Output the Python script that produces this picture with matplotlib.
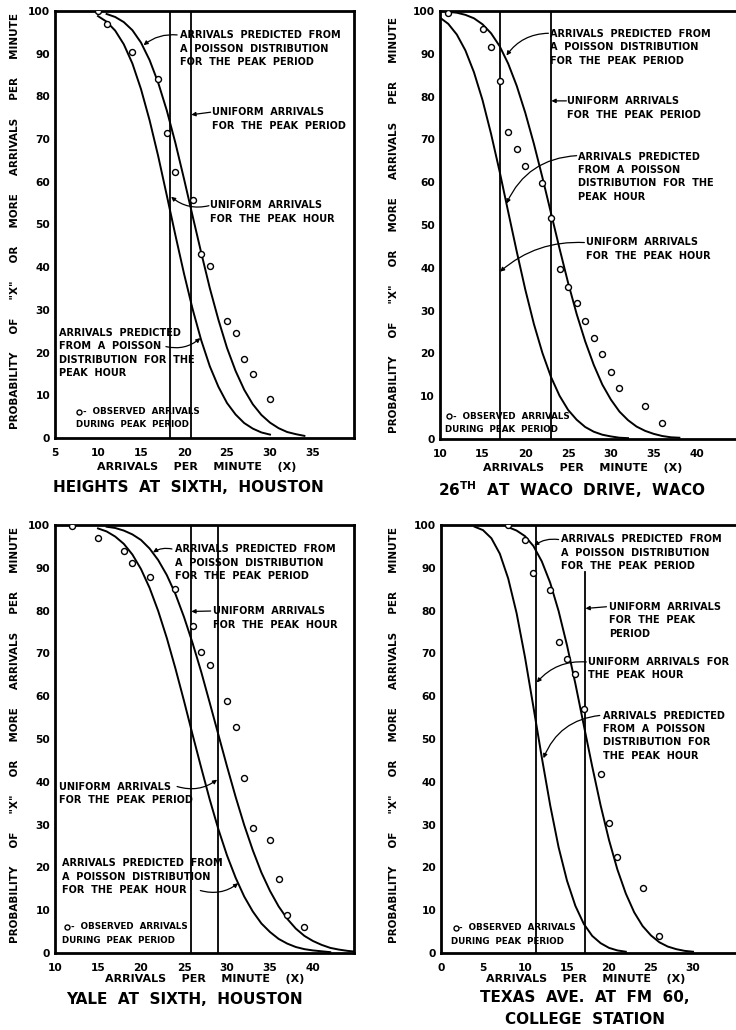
import matplotlib
matplotlib.use("Agg")
import matplotlib.pyplot as plt

plt.rcParams['font.family'] = ['DejaVu Sans']
plt.rcParams['font.weight'] = 'bold'

# ---------------- data ----------------
y_ticks = [0, 10, 20, 30, 40, 50, 60, 70, 80, 90, 100]

# Panel 1: Heights at Sixth, Houston
p1_hour_x = list(range(10, 31))
p1_hour_y = [98.8, 97.5, 95.4, 92.2, 87.7, 81.7, 74.4, 66.0, 56.8, 47.5, 38.5,
             30.2, 22.9, 16.8, 12.0, 8.2, 5.5, 3.5, 2.2, 1.3, 0.8]
p1_period_x = list(range(11, 35))
p1_period_y = [99.3, 98.6, 97.4, 95.5, 92.6, 88.5, 83.2, 76.7, 69.1, 60.7, 52.0,
               43.4, 35.1, 27.7, 21.1, 15.7, 11.3, 7.9, 5.4, 3.6, 2.3, 1.4, 0.9, 0.5]
p1_obs_x = [10, 11, 14, 17, 18, 19, 21, 22, 23, 25, 26, 27, 28, 30]
p1_obs_y = [100, 97, 90.3, 84, 71.5, 62.3, 55.8, 43.1, 40.2, 27.5, 24.6, 18.4, 15.1, 9.1]
p1_uniform = [18.4, 20.8]
p1_xticks = [5, 10, 15, 20, 25, 30, 35]

# Panel 2: 26th at Waco Drive, Waco
p2_hour_x = list(range(10, 33))
p2_hour_y = [98.5, 97.0, 94.5, 90.8, 85.7, 79.2, 71.3, 62.5, 53.1, 43.8, 34.9, 26.9,
             20.1, 14.5, 10.1, 6.8, 4.5, 2.8, 1.7, 1.0, 0.6, 0.3, 0.2]
p2_period_x = list(range(11, 39))
p2_period_y = [99.8, 99.6, 99.1, 98.3, 96.9, 94.8, 91.8, 87.7, 82.5, 76.2, 69.0, 61.1,
               52.8, 44.5, 36.5, 29.2, 22.8, 17.3, 12.7, 9.2, 6.4, 4.4, 2.9, 1.9,
               1.2, 0.7, 0.4, 0.3]
p2_obs_x = [11, 15, 16, 17, 18, 19, 20, 22, 23, 24, 25, 26, 27, 28, 29, 30, 31, 34, 36]
p2_obs_y = [99.6, 95.7, 91.7, 83.6, 71.7, 67.8, 63.9, 59.8, 51.6, 39.8, 35.4, 31.7,
            27.6, 23.7, 19.8, 15.6, 11.9, 7.6, 3.7]
p2_uniform = [17.0, 23.0]
p2_xticks = [10, 15, 20, 25, 30, 35, 40]

# Panel 3: Yale at Sixth, Houston
p3_hour_x = list(range(15, 43))
p3_hour_y = [99.2, 98.5, 97.3, 95.6, 93.1, 89.7, 85.3, 79.9, 73.6, 66.5, 58.9, 51.0,
             43.3, 35.8, 28.9, 22.8, 17.6, 13.2, 9.7, 6.9, 4.9, 3.3, 2.2, 1.4, 0.9,
             0.6, 0.4, 0.2]
p3_period_x = list(range(16, 46))
p3_period_y = [99.6, 99.3, 98.7, 97.8, 96.5, 94.5, 91.8, 88.3, 83.9, 78.5, 72.4, 65.7,
               58.4, 51.0, 43.6, 36.5, 29.9, 24.0, 18.8, 14.5, 10.9, 8.0, 5.7, 4.0,
               2.8, 1.9, 1.2, 0.8, 0.5, 0.3]
p3_obs_x = [12, 15, 18, 19, 21, 24, 26, 27, 28, 30, 31, 32, 33, 35, 36, 37, 39]
p3_obs_y = [99.8, 96.9, 93.9, 91.1, 87.8, 85.0, 76.3, 70.3, 67.3, 58.8, 52.7, 40.8,
            29.3, 26.3, 17.4, 8.9, 6.0]
p3_uniform = [25.8, 28.9]
p3_xticks = [10, 15, 20, 25, 30, 35, 40]

# Panel 4: Texas Ave. at FM 60, College Station
p4_hour_x = list(range(4, 23))
p4_hour_y = [99.6, 98.8, 96.9, 93.3, 87.5, 79.4, 69.1, 57.5, 45.7, 34.5, 24.7, 16.9,
             11.0, 6.8, 4.0, 2.3, 1.2, 0.6, 0.3]
p4_period_x = list(range(8, 31))
p4_period_y = [99.5, 98.7, 97.4, 95.1, 91.5, 86.5, 79.9, 71.9, 62.9, 53.2, 43.6, 34.5,
               26.4, 19.5, 13.9, 9.5, 6.3, 4.1, 2.5, 1.5, 0.9, 0.5, 0.3]
p4_obs_x = [8, 10, 11, 13, 14, 15, 16, 17, 19, 20, 21, 24, 26]
p4_obs_y = [99.9, 96.6, 88.8, 84.9, 72.7, 68.7, 65.1, 57.1, 41.8, 30.4, 22.5, 15.2, 3.9]
p4_uniform = [11.3, 17.1]
p4_xticks = [0, 5, 10, 15, 20, 25, 30]

titles = ["HEIGHTS  AT  SIXTH,  HOUSTON",
          r"26$^{\mathbf{TH}}$  AT  WACO  DRIVE,  WACO",
          "YALE  AT  SIXTH,  HOUSTON",
          "TEXAS  AVE.  AT  FM  60,",
          "COLLEGE  STATION"]
xlabel = "ARRIVALS    PER    MINUTE    (X)"
ylabel = 'PROBABILITY     OF     "X"     OR     MORE     ARRIVALS     PER     MINUTE'

# ---------------- figure ----------------
W, H = 736, 1030
fig = plt.figure(figsize=(W / 100, H / 100), dpi=100)


def px_axes(left, top, right, bottom):
    return fig.add_axes([left / W, 1 - bottom / H, (right - left) / W, (bottom - top) / H])


ax1 = px_axes(55, 11, 354, 438)
ax2 = px_axes(439.7, 11, 742, 439)
ax3 = px_axes(55, 525, 354, 953)
ax4 = px_axes(441, 525, 742, 953)

xlims = [(5, 5 + 299 / 8.6), (10, 10 + (742 - 439.7) / 8.56),
         (10, 10 + 299 / 8.6), (0, (742 - 441) / 8.4)]

panels = [
    (ax1, p1_hour_x, p1_hour_y, p1_period_x, p1_period_y, p1_obs_x, p1_obs_y, p1_uniform, p1_xticks),
    (ax2, p2_hour_x, p2_hour_y, p2_period_x, p2_period_y, p2_obs_x, p2_obs_y, p2_uniform, p2_xticks),
    (ax3, p3_hour_x, p3_hour_y, p3_period_x, p3_period_y, p3_obs_x, p3_obs_y, p3_uniform, p3_xticks),
    (ax4, p4_hour_x, p4_hour_y, p4_period_x, p4_period_y, p4_obs_x, p4_obs_y, p4_uniform, p4_xticks),
]

for i, (ax, hx, hy, px_, py_, ox, oy, uni, xt) in enumerate(panels):
    ax.plot(hx, hy, color='black', lw=1.4, zorder=3)
    ax.plot(px_, py_, color='black', lw=1.4, zorder=3)
    for j, u in enumerate(uni):
        ymax = 0.89 if (i == 3 and j == 1) else 1.0
        ax.axvline(u, ymin=0, ymax=ymax, color='black', lw=1.3, zorder=2)
    ax.plot(ox, oy, linestyle='none', marker='o', markersize=4.3, markerfacecolor='white',
            markeredgecolor='black', markeredgewidth=1.0, zorder=5)
    ax.set_xlim(*xlims[i])
    ax.set_ylim(0, 100)
    ax.set_xticks(xt)
    ax.set_yticks(y_ticks)
    ax.tick_params(length=0, labelsize=7.7, pad=3.5)
    ax.tick_params(axis='x', pad=7)
    for lab in ax.get_xticklabels() + ax.get_yticklabels():
        lab.set_fontweight('bold')
    for s in ax.spines.values():
        s.set_linewidth(2.0)
    if i in (1, 3):
        ax.spines['right'].set_visible(False)

TS = 7.0
LS = 1.42
arrow_kw = dict(arrowstyle='-|>', color='black', lw=0.9, mutation_scale=6,
                shrinkA=0, shrinkB=0)


def label(ax, text, x, y, start, target, rad):
    ax.text(x, y, text, fontsize=TS, fontweight='bold', ha='left', va='center',
            linespacing=LS, zorder=6)
    ax.annotate('', xy=target, xytext=start,
                arrowprops=dict(connectionstyle='arc3,rad=%s' % rad, **arrow_kw), zorder=6)


def legend(ax, mx, my, tx, ty2):
    ax.plot([mx], [my], linestyle='none', marker='o', markersize=3.6, markerfacecolor='white',
            markeredgecolor='black', markeredgewidth=1.0, zorder=6)
    ax.text(mx + 0.45, my, "-  OBSERVED  ARRIVALS", fontsize=6.3, fontweight='bold',
            ha='left', va='center', zorder=6)
    ax.text(tx, ty2, "DURING  PEAK  PERIOD", fontsize=6.3, fontweight='bold',
            ha='left', va='center', zorder=6)


# Panel 1 labels
label(ax1, "ARRIVALS  PREDICTED  FROM\nA  POISSON  DISTRIBUTION\nFOR  THE  PEAK  PERIOD",
      19.5, 91.2, (19.2, 94.4), (15.3, 92.0), 0.2)
label(ax1, "UNIFORM  ARRIVALS\nFOR  THE  PEAK  PERIOD", 23.3, 74.7, (23.1, 76.3), (20.85, 75.7), 0)
label(ax1, "UNIFORM  ARRIVALS\nFOR  THE  PEAK  HOUR", 23.0, 52.9, (22.9, 54.4), (18.5, 56.5), -0.25)
label(ax1, "ARRIVALS  PREDICTED\nFROM  A  POISSON\nDISTRIBUTION  FOR  THE\nPEAK  HOUR",
      5.5, 19.9, (17.9, 21.4), (21.9, 23.4), 0.25)
legend(ax1, 7.8, 6.2, 7.5, 3.1)

# Panel 2 labels
label(ax2, "ARRIVALS  PREDICTED  FROM\nA  POISSON  DISTRIBUTION\nFOR  THE  PEAK  PERIOD",
      22.9, 91.5, (22.7, 94.8), (17.8, 89.6), 0.25)
label(ax2, "UNIFORM  ARRIVALS\nFOR  THE  PEAK  PERIOD", 24.9, 77.3, (24.8, 79.0), (23.05, 79.0), 0)
label(ax2, "ARRIVALS  PREDICTED\nFROM  A  POISSON\nDISTRIBUTION  FOR  THE\nPEAK  HOUR",
      26.2, 61.3, (26.0, 66.2), (17.8, 55.0), 0.3)
label(ax2, "UNIFORM  ARRIVALS\nFOR  THE  PEAK  HOUR", 27.1, 44.4, (26.9, 45.9), (17.05, 39.1), 0.2)
legend(ax2, 11.1, 5.3, 10.6, 2.2)

# Panel 3 labels
label(ax3, "ARRIVALS  PREDICTED  FROM\nA  POISSON  DISTRIBUTION\nFOR  THE  PEAK  PERIOD",
      23.9, 91.2, (23.6, 94.4), (21.4, 93.6), 0.2)
label(ax3, "UNIFORM  ARRIVALS\nFOR  THE  PEAK  HOUR", 28.4, 78.3, (28.1, 79.9), (25.85, 79.8), 0)
label(ax3, "UNIFORM  ARRIVALS\nFOR  THE  PEAK  PERIOD", 10.5, 37.3, (24.2, 38.9), (28.85, 40.5), 0.25)
label(ax3, "ARRIVALS  PREDICTED  FROM\nA  POISSON  DISTRIBUTION\nFOR  THE  PEAK  HOUR",
      10.8, 17.8, (26.9, 14.6), (31.3, 16.3), 0.25)
legend(ax3, 11.4, 6.1, 10.8, 3.0)

# Panel 4 labels
label(ax4, "ARRIVALS  PREDICTED  FROM\nA  POISSON  DISTRIBUTION\nFOR  THE  PEAK  PERIOD",
      14.3, 93.5, (14.0, 96.6), (11.1, 95.2), 0.2)
label(ax4, "UNIFORM  ARRIVALS\nFOR  THE  PEAK\nPERIOD", 20.0, 77.7, (19.7, 80.9), (17.2, 80.5), 0)
label(ax4, "UNIFORM  ARRIVALS  FOR\nTHE  PEAK  HOUR", 17.5, 66.5, (17.3, 68.0), (11.4, 63.2), 0.25)
label(ax4, "ARRIVALS  PREDICTED\nFROM  A  POISSON\nDISTRIBUTION  FOR\nTHE  PEAK  HOUR",
      19.3, 50.8, (18.9, 55.5), (12.2, 45.5), 0.3)
legend(ax4, 1.74, 5.9, 1.2, 2.7)


# outer labels (positions in pixels)
def ftext(x, y, s, **kw):
    fig.text(x / W, 1 - y / H, s, fontweight='bold', **kw)


for (yx, yy) in [(15, 221), (394, 225), (15, 735), (394, 735)]:
    ftext(yx, yy, ylabel, fontsize=7.5, rotation=90, ha='center', va='center')
for (xx, xy) in [(197, 467), (583, 468), (205, 979), (586, 979)]:
    ftext(xx, xy, xlabel, fontsize=8.0, ha='center', va='center')

ftext(188, 488, titles[0], fontsize=11, ha='center', va='center')
ftext(572, 490, titles[1], fontsize=11, ha='center', va='center')
ftext(184, 1000, titles[2], fontsize=11, ha='center', va='center')
ftext(585, 998, titles[3], fontsize=11, ha='center', va='center')
ftext(585, 1020, titles[4], fontsize=11, ha='center', va='center')

fig.savefig("out.png", dpi=100)
